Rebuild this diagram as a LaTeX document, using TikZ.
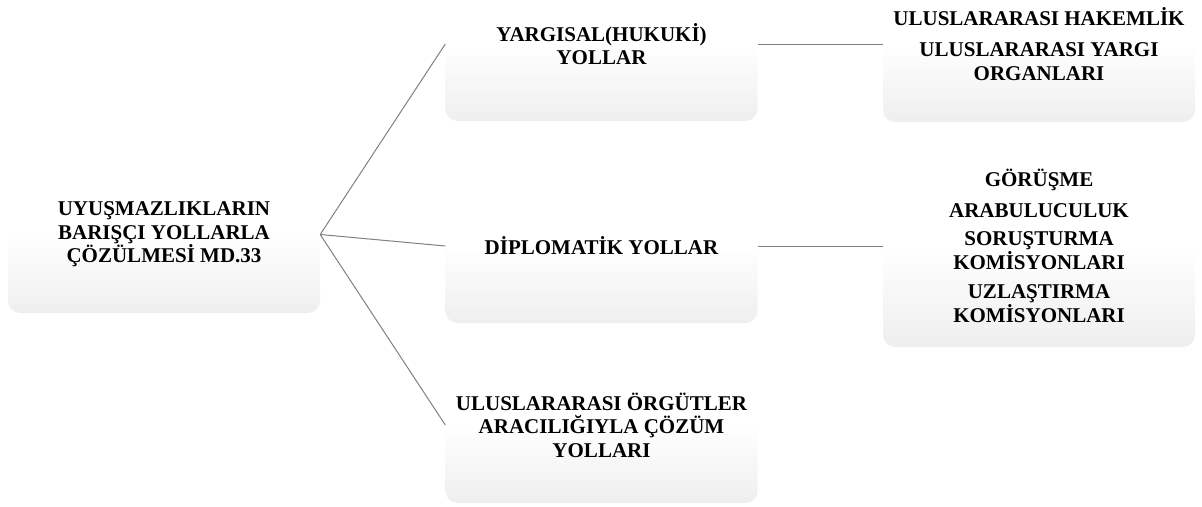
\documentclass[tikz,border=0pt]{standalone}
\usepackage{fontspec}
\setmainfont{Liberation Serif}
\usepackage{tikz}

\pgfdeclareverticalshading{boxshade}{100bp}{color(0bp)=(black!13); color(50bp)=(white); color(100bp)=(white)}

\begin{document}
\begin{tikzpicture}[yscale=-1
  ,pstyle0/.style={rounded corners=12pt,shading=boxshade,inner sep=0pt,minimum width=312pt,align=center,font=\fontsize{21pt}{23.5pt}\selectfont\bfseries}
  ,pstyle1/.style={color=gray,line width=1pt}
]
\useasboundingbox (0pt,0pt) rectangle (1202pt,506pt);
\clip (0pt,0pt) rectangle (1202pt,506pt);

% --- Boxes with rounded corners ---
\node[pstyle0,minimum height=157pt] (root) at (164pt,234.5pt)
  {UYUŞMAZLIKLARIN\\BARIŞÇI YOLLARLA\\ÇÖZÜLMESİ MD.33};

\node[pstyle0,minimum height=154pt] (yargi) at (601.5pt,44pt)
  {YARGISAL(HUKUKİ)\\YOLLAR};

\node[pstyle0,minimum height=154pt] (diplo) at (601.5pt,246pt)
  {DİPLOMATİK YOLLAR};

\node[pstyle0,minimum height=156pt] (orgut) at (601.5pt,425pt)
  {ULUSLARARASI ÖRGÜTLER\\ARACILIĞIYLA ÇÖZÜM\\YOLLARI};

\node[pstyle0,minimum height=156pt] (hakem) at (1039pt,44pt)
  {ULUSLARARASI HAKEMLİK\\[8pt]ULUSLARARASI YARGI\\ORGANLARI};

\node[pstyle0,minimum height=202pt] (gorus) at (1039pt,246pt)
  {GÖRÜŞME\\[7pt]ARABULUCULUK\\[5pt]SORUŞTURMA\\KOMİSYONLARI\\[6pt]UZLAŞTIRMA\\KOMİSYONLARI};

% --- Straight connectors ---
\draw[pstyle1] (root.east) -- (yargi.west);
\draw[pstyle1] (root.east) -- (diplo.west);
\draw[pstyle1] (root.east) -- (orgut.west);
\draw[pstyle1] (yargi.east) -- (hakem.west);
\draw[pstyle1] (diplo.east) -- (gorus.west);

\end{tikzpicture}
\end{document}
